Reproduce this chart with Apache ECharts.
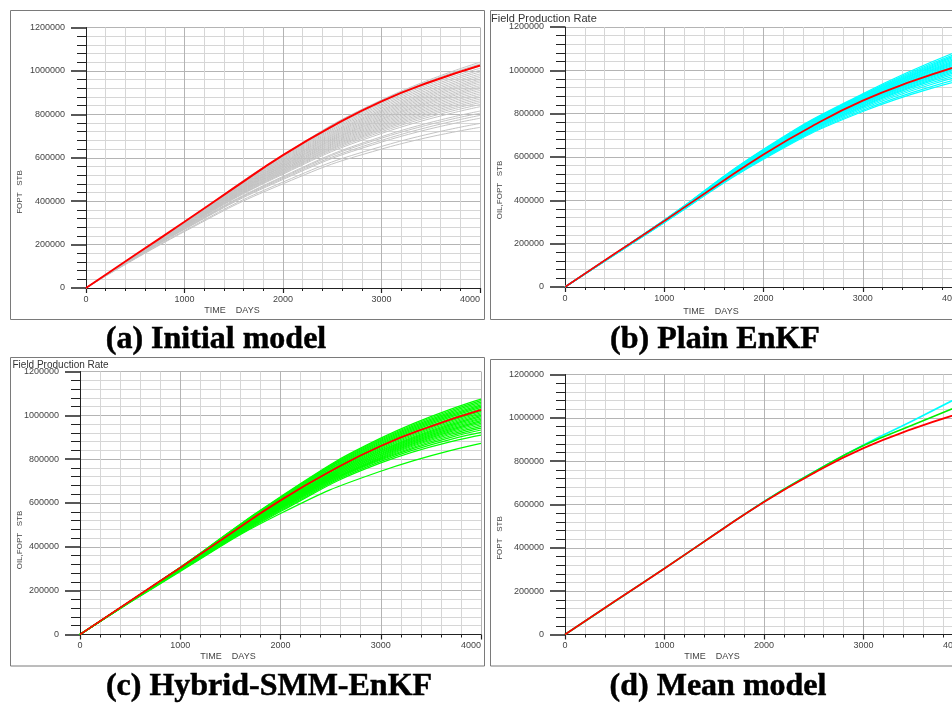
<!DOCTYPE html>
<html>
<head>
<meta charset="utf-8">
<script src="https://cdn.jsdelivr.net/npm/echarts@6/dist/echarts.min.js"></script>
<style>
  html, body { margin: 0; padding: 0; background: #ffffff; }
  #chart { width: 952px; height: 704px; }
</style>
</head>
<body>
<div id="chart"></div>
<script>
// ---- Data: field oil production total (FOPT, STB) versus time (days) ----
const days = [0, 1000, 2000, 3000, 4000];

// Reference (true) field production total
const truthDays = [0, 500, 1000, 1500, 2000, 2500, 3000, 3500, 4000];
const truthFopt = [0, 153000, 305000, 460000, 612000, 745000, 860000, 950000, 1025000];

// (a) Initial ensemble
const initialMembers = [
  [0, 305000, 613000, 866000, 1040000],
  [0, 304000, 611000, 862000, 1032000],
  [0, 303000, 608000, 856000, 1022000],
  [0, 302000, 604000, 850000, 1012000],
  [0, 301000, 600000, 843000, 1003000],
  [0, 300000, 596000, 836000, 995000],
  [0, 299000, 592000, 829000, 986000],
  [0, 298000, 588000, 822000, 978000],
  [0, 297000, 584000, 816000, 970000],
  [0, 296000, 580000, 810000, 962000],
  [0, 295000, 577000, 804000, 955000],
  [0, 294000, 573000, 798000, 948000],
  [0, 293000, 570000, 792000, 940000],
  [0, 292000, 566000, 786000, 932000],
  [0, 291000, 563000, 780000, 925000],
  [0, 290000, 560000, 775000, 918000],
  [0, 289000, 556000, 769000, 910000],
  [0, 288000, 553000, 763000, 902000],
  [0, 287000, 549000, 757000, 894000],
  [0, 286000, 546000, 751000, 886000],
  [0, 285000, 542000, 745000, 878000],
  [0, 284000, 539000, 739000, 870000],
  [0, 283000, 535000, 733000, 862000],
  [0, 282000, 532000, 727000, 854000],
  [0, 280000, 528000, 720000, 845000],
  [0, 279000, 524000, 712000, 835000],
  [0, 276000, 514000, 697000, 815000],
  [0, 274000, 510000, 690000, 805000],
  [0, 272000, 505000, 680000, 795000],
  [0, 270000, 500000, 672000, 782000],
  [0, 264000, 488000, 652000, 758000],
  [0, 260000, 480000, 640000, 740000]
];

// (b) Plain EnKF ensemble
const enkfMembers = [
  [0, 309000, 636000, 892000, 1095000],
  [0, 308000, 633000, 888000, 1087000],
  [0, 308000, 631000, 885000, 1080000],
  [0, 307000, 629000, 882000, 1074000],
  [0, 307000, 627000, 879000, 1068000],
  [0, 306000, 625000, 876000, 1062000],
  [0, 306000, 623000, 873000, 1056000],
  [0, 306000, 621000, 870000, 1051000],
  [0, 305000, 619000, 867000, 1046000],
  [0, 305000, 617000, 864000, 1041000],
  [0, 305000, 615000, 861000, 1036000],
  [0, 304000, 613000, 858000, 1031000],
  [0, 304000, 611000, 855000, 1026000],
  [0, 304000, 609000, 852000, 1021000],
  [0, 303000, 607000, 849000, 1016000],
  [0, 303000, 605000, 846000, 1011000],
  [0, 302000, 603000, 842000, 1005000],
  [0, 302000, 601000, 838000, 999000],
  [0, 301000, 599000, 834000, 992000],
  [0, 300000, 597000, 829000, 984000],
  [0, 299000, 595000, 823000, 975000],
  [0, 298000, 593000, 816000, 964000],
  [0, 297000, 590000, 810000, 955000]
];

// (c) Hybrid-SMM-EnKF ensemble
const hybridMembers = [
  [0, 307000, 629000, 896000, 1074000],
  [0, 306000, 626000, 891000, 1067000],
  [0, 306000, 623000, 886000, 1060000],
  [0, 305000, 621000, 881000, 1054000],
  [0, 305000, 618000, 876000, 1048000],
  [0, 304000, 616000, 871000, 1042000],
  [0, 304000, 613000, 866000, 1036000],
  [0, 303000, 611000, 861000, 1030000],
  [0, 303000, 608000, 856000, 1024000],
  [0, 302000, 606000, 851000, 1018000],
  [0, 302000, 603000, 846000, 1012000],
  [0, 301000, 601000, 841000, 1006000],
  [0, 301000, 598000, 837000, 1000000],
  [0, 300000, 596000, 833000, 994000],
  [0, 300000, 593000, 829000, 988000],
  [0, 299000, 591000, 825000, 982000],
  [0, 299000, 588000, 821000, 976000],
  [0, 298000, 586000, 817000, 970000],
  [0, 298000, 583000, 813000, 964000],
  [0, 297000, 580000, 809000, 957000],
  [0, 296000, 577000, 805000, 950000],
  [0, 295000, 574000, 800000, 942000],
  [0, 294000, 570000, 796000, 933000],
  [0, 293000, 566000, 790000, 922000],
  [0, 291000, 561000, 783000, 910000],
  [0, 288000, 552000, 745000, 872000]
];

// (d) Ensemble means
const meanDays   = [0, 1000, 2000, 2500, 3000, 3500, 4000];
const enkfMean   = [0, 305000, 614000, 750000, 875000, 988000, 1105000];
const hybridMean = [0, 305000, 613000, 749000, 872000, 968000, 1062000];

// Axis ticks
const xTicks = { min: 0, max: 4000, interval: 1000, minorSplit: 5 };
const yTicks = { min: 0, max: 1200000, interval: 200000, minorSplit: 5 };

// Panel captions and axis titles
const captions = ['(a) Initial model', '(b) Plain EnKF', '(c) Hybrid-SMM-EnKF', '(d) Mean model'];
const yTitles = ['FOPT   STB', 'OIL,FOPT   STB', 'OIL,FOPT   STB', 'FOPT   STB'];
const xTitle = 'TIME    DAYS';
const panelTitle = 'Field Production Rate';

// ---- Layout ----
const layout = [
  { grid: { left: 86, top: 27.5, width: 394, height: 260.5 }, frame: [10.5, 10.5, 474, 309],
    cap: [216, 340], yName: [20, 192], xName: [232, 311], title: null },
  { grid: { left: 565, top: 27, width: 397, height: 260 }, frame: [490.5, 10.5, 480, 309],
    cap: [715, 340], yName: [500, 190], xName: [711, 311.5], title: [491, 19, 11] },
  { grid: { left: 80, top: 371.5, width: 401, height: 263 }, frame: [10.5, 357.5, 474, 308.5],
    cap: [269, 687], yName: [20, 540], xName: [228, 657], title: [12.5, 365, 10] },
  { grid: { left: 565, top: 374.5, width: 398, height: 260 }, frame: [490.5, 359.5, 480, 306.5],
    cap: [718, 687], yName: [500, 538], xName: [712, 657], title: null }
];

const labelFont = 'Liberation Sans, Arial, sans-serif';
const gridMajor = '#b4b4b4';
const gridMinor = '#d6d6d6';
const plainNumber = v => String(v);

function xAxisFor(i) {
  return {
    type: 'value', gridIndex: i,
    min: xTicks.min, max: xTicks.max, interval: xTicks.interval,
    axisLine: { show: true, onZero: false, lineStyle: { color: '#222', width: 1 } },
    axisTick: { show: true, length: 5, lineStyle: { color: '#222', width: 1.2 } },
    minorTick: { show: true, splitNumber: xTicks.minorSplit, length: 3, lineStyle: { color: '#222' } },
    splitLine: { show: true, lineStyle: { color: gridMajor, width: 1 } },
    minorSplitLine: { show: true, lineStyle: { color: gridMinor, width: 1 } },
    axisLabel: { show: true, margin: 7, fontSize: 9, color: '#444', fontFamily: labelFont,
                 alignMaxLabel: 'right', formatter: plainNumber }
  };
}

function yAxisFor(i) {
  return {
    type: 'value', gridIndex: i,
    min: yTicks.min, max: yTicks.max, interval: yTicks.interval,
    axisLine: { show: true, onZero: false, lineStyle: { color: '#222', width: 1 } },
    axisTick: { show: true, length: 15, lineStyle: { color: '#222', width: 1.5 } },
    minorTick: { show: true, splitNumber: yTicks.minorSplit, length: 9, lineStyle: { color: '#222' } },
    splitLine: { show: true, lineStyle: { color: gridMajor, width: 1 } },
    minorSplitLine: { show: true, lineStyle: { color: gridMinor, width: 1 } },
    axisLabel: { show: true, margin: 21, fontSize: 9, color: '#444', fontFamily: labelFont,
                 formatter: plainNumber }
  };
}

function lineSeries(xs, ys, axisIdx, color, width, z) {
  return {
    type: 'line', xAxisIndex: axisIdx, yAxisIndex: axisIdx,
    data: xs.map((d, k) => [d, ys[k]]),
    smooth: true, showSymbol: false, silent: true, animation: false,
    lineStyle: { color: color, width: width }, z: z
  };
}

const series = [];
initialMembers.forEach(m => series.push(lineSeries(days, m, 0, '#c3c3c3', 1, 2)));
series.push(lineSeries(truthDays, truthFopt, 0, '#ff0000', 2, 5));
enkfMembers.forEach(m => series.push(lineSeries(days, m, 1, '#00ffff', 1.2, 2)));
series.push(lineSeries(truthDays, truthFopt, 1, '#ff0000', 1.8, 5));
hybridMembers.forEach(m => series.push(lineSeries(days, m, 2, '#00ff00', 1.2, 2)));
series.push(lineSeries(truthDays, truthFopt, 2, '#ff0000', 1.8, 5));
series.push(lineSeries(meanDays, enkfMean, 3, '#00ffff', 1.6, 3));
series.push(lineSeries(meanDays, hybridMean, 3, '#00ee00', 1.6, 4));
series.push(lineSeries(truthDays, truthFopt, 3, '#ff0000', 1.8, 5));

const graphic = [];
layout.forEach((p, i) => {
  graphic.push({
    type: 'rect', silent: true, z: 0,
    shape: { x: p.frame[0], y: p.frame[1], width: p.frame[2], height: p.frame[3] },
    style: { fill: 'none', stroke: '#7a7a7a', lineWidth: 1 }
  });
  // Captions: heavy serif; a thin outline of the same colour thickens the strokes slightly
  graphic.push({
    type: 'text', silent: true, z: 10, x: p.cap[0], y: p.cap[1],
    style: { text: captions[i], fill: '#000', stroke: '#000', lineWidth: 0.5,
             align: 'center', verticalAlign: 'middle',
             fontSize: 32, fontWeight: 'bold',
             fontFamily: '"Liberation Serif", "Times New Roman", serif' }
  });
  graphic.push({
    type: 'text', silent: true, z: 10, x: p.yName[0], y: p.yName[1], rotation: Math.PI / 2,
    style: { text: yTitles[i], fill: '#444', align: 'center', verticalAlign: 'middle',
             fontSize: 8, fontFamily: labelFont }
  });
  graphic.push({
    type: 'text', silent: true, z: 10, x: p.xName[0], y: p.xName[1],
    style: { text: xTitle, fill: '#444', align: 'center', verticalAlign: 'middle',
             fontSize: 9, fontFamily: labelFont }
  });
  if (p.title) {
    graphic.push({
      type: 'text', silent: true, z: 10, x: p.title[0], y: p.title[1],
      style: { text: panelTitle, fill: '#333', align: 'left', verticalAlign: 'middle',
               fontSize: p.title[2], fontFamily: labelFont }
    });
  }
});

const chart = echarts.init(document.getElementById('chart'), null, { renderer: 'canvas' });
chart.setOption({
  backgroundColor: '#ffffff',
  animation: false,
  grid: layout.map(p => Object.assign({ containLabel: false, outerBoundsMode: 'none' }, p.grid)),
  xAxis: layout.map((p, i) => xAxisFor(i)),
  yAxis: layout.map((p, i) => yAxisFor(i)),
  series: series,
  graphic: graphic
});
</script>
</body>
</html>
